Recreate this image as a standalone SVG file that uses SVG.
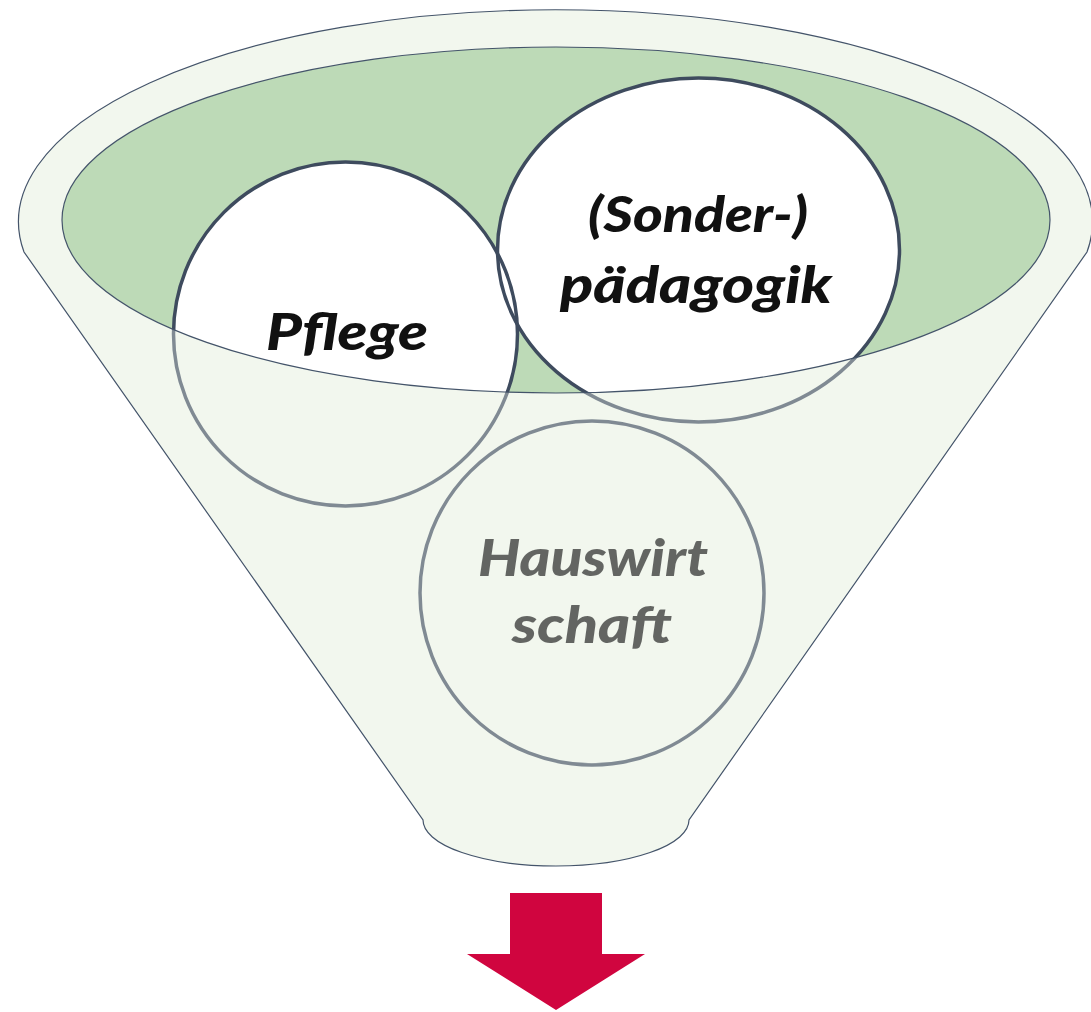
<svg xmlns="http://www.w3.org/2000/svg" width="1091" height="1012" viewBox="0 0 1091 1012">
<style>
.outline{fill:none;stroke:#44546a;stroke-width:1.2}
.ring{fill:none;stroke:#3e4b5e;stroke-width:3.5}
.lbl{font-family:Lato,"Noto Sans",sans-serif;font-weight:900;font-style:italic;fill:#111;text-anchor:middle}
</style>
<defs>
<path id="funnelPath" d="M24,252 A537,212 0 1 1 1087,252 L689,820 A133,46 0 0 1 423,820 Z"/>
<ellipse id="innerEll" cx="556" cy="220" rx="494" ry="173"/>
<clipPath id="innerClip"><use href="#innerEll"/></clipPath>
</defs>
<g id="funnel">
<use href="#funnelPath" fill="#f2f7ee"/>
<use href="#innerEll" fill="#bddab7"/>
</g>
<g id="fills" clip-path="url(#innerClip)">
<circle cx="345.5" cy="334" r="172" fill="#fff"/>
<ellipse cx="698.5" cy="250" rx="201" ry="172" fill="#fff"/>
<circle cx="592" cy="593" r="172" fill="#fff"/>
</g>
<g id="pflege">
<circle class="ring" cx="345.5" cy="334" r="172"/>
<text class="lbl" x="347" y="350" font-size="52" textLength="162" lengthAdjust="spacingAndGlyphs">Pflege</text>
</g>
<g id="paedagogik">
<ellipse class="ring" cx="698.5" cy="250" rx="201" ry="172"/>
<text class="lbl" x="698" y="232" font-size="50" textLength="220" lengthAdjust="spacingAndGlyphs">(Sonder-)</text>
<text class="lbl" x="696" y="303" font-size="52" textLength="272" lengthAdjust="spacingAndGlyphs">pädagogik</text>
</g>
<g id="hauswirtschaft">
<circle class="ring" cx="592" cy="593" r="172"/>
<text class="lbl" x="593" y="576" font-size="52" textLength="230" lengthAdjust="spacingAndGlyphs">Hauswirt</text>
<text class="lbl" x="592" y="643" font-size="52" textLength="160" lengthAdjust="spacingAndGlyphs">schaft</text>
</g>
<g id="overlay">
<path d="M24,252 A537,212 0 1 1 1087,252 L689,820 A133,46 0 0 1 423,820 Z M62,220 A494,173 0 1 0 1050,220 A494,173 0 1 0 62,220 Z" fill="#f2f7ee" fill-rule="evenodd" opacity="0.37"/>
<use href="#funnelPath" class="outline"/>
<use href="#innerEll" class="outline"/>
</g>
<g id="arrow">
<path d="M510,893 H602 V954 H645 L556,1010 L467,954 H510 Z" fill="#d0053f"/>
</g>
</svg>
